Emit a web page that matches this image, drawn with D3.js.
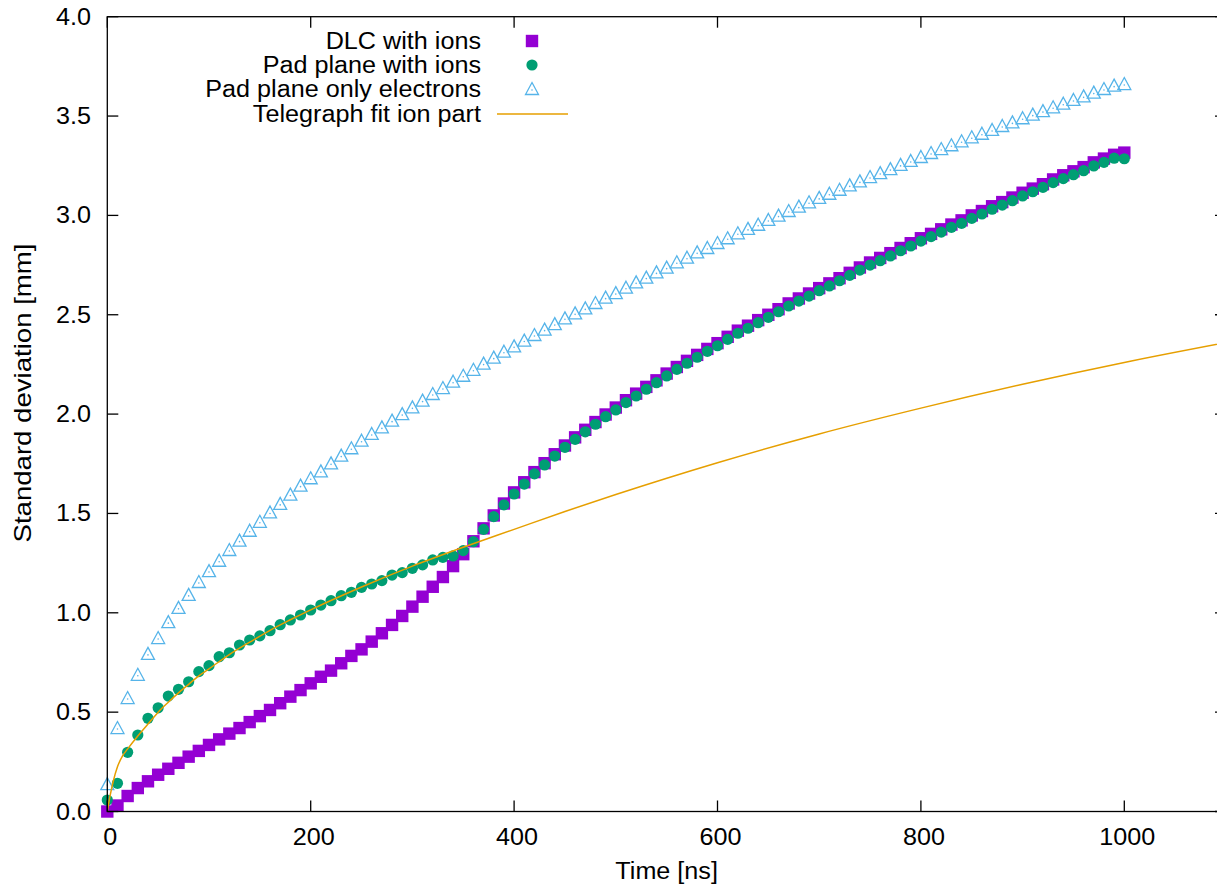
<!DOCTYPE html>
<html>
<head>
<meta charset="utf-8">
<script src="https://cdn.jsdelivr.net/npm/d3@7/dist/d3.min.js"></script>
<style>
body { margin: 0; background: #fff; }
text { font-family: "Liberation Sans", Arial, sans-serif; fill: #000; }
</style>
</head>
<body>
<div id="chart"></div>
<script>
// Sample times [ns]
var times = [0, 10, 20, 30, 40, 50, 60, 70, 80, 90,
    100, 110, 120, 130, 140, 150, 160, 170, 180, 190,
    200, 210, 220, 230, 240, 250, 260, 270, 280, 290,
    300, 310, 320, 330, 340, 350, 360, 370, 380, 390,
    400, 410, 420, 430, 440, 450, 460, 470, 480, 490,
    500, 510, 520, 530, 540, 550, 560, 570, 580, 590,
    600, 610, 620, 630, 640, 650, 660, 670, 680, 690,
    700, 710, 720, 730, 740, 750, 760, 770, 780, 790,
    800, 810, 820, 830, 840, 850, 860, 870, 880, 890,
    900, 910, 920, 930, 940, 950, 960, 970, 980, 990, 1000];

// DLC with ions [mm]
var dlcIons = [0.000, 0.030, 0.078, 0.118, 0.152, 0.185, 0.215, 0.245, 0.276, 0.305,
    0.335, 0.363, 0.392, 0.420, 0.450, 0.480, 0.511, 0.545, 0.578, 0.611,
    0.645, 0.678, 0.709, 0.746, 0.783, 0.816, 0.855, 0.897, 0.939, 0.984,
    1.031, 1.081, 1.131, 1.180, 1.235, 1.295, 1.360, 1.425, 1.490, 1.550,
    1.606, 1.657, 1.708, 1.753, 1.798, 1.842, 1.883, 1.921, 1.960, 1.998,
    2.033, 2.070, 2.103, 2.137, 2.170, 2.204, 2.237, 2.268, 2.298, 2.328,
    2.357, 2.389, 2.420, 2.445, 2.473, 2.500, 2.528, 2.557, 2.582, 2.607,
    2.634, 2.658, 2.684, 2.711, 2.738, 2.763, 2.786, 2.810, 2.836, 2.860,
    2.885, 2.907, 2.930, 2.954, 2.975, 3.000, 3.022, 3.046, 3.067, 3.090,
    3.114, 3.135, 3.157, 3.181, 3.202, 3.222, 3.243, 3.267, 3.286, 3.305, 3.316];

// Pad plane with ions [mm]
var padIons = [0.058, 0.142, 0.298, 0.385, 0.469, 0.522, 0.581, 0.615, 0.653, 0.704,
    0.734, 0.779, 0.799, 0.838, 0.863, 0.884, 0.910, 0.940, 0.964, 0.989,
    1.014, 1.039, 1.061, 1.086, 1.103, 1.128, 1.145, 1.162, 1.190, 1.202,
    1.224, 1.241, 1.266, 1.279, 1.286, 1.313, 1.358, 1.420, 1.484, 1.543,
    1.598, 1.648, 1.699, 1.744, 1.789, 1.833, 1.873, 1.911, 1.949, 1.987,
    2.021, 2.058, 2.091, 2.125, 2.158, 2.192, 2.225, 2.256, 2.286, 2.316,
    2.344, 2.376, 2.407, 2.432, 2.460, 2.487, 2.515, 2.544, 2.569, 2.594,
    2.621, 2.645, 2.671, 2.698, 2.725, 2.750, 2.772, 2.796, 2.822, 2.846,
    2.871, 2.893, 2.916, 2.940, 2.960, 2.985, 3.007, 3.031, 3.052, 3.074,
    3.098, 3.119, 3.141, 3.165, 3.185, 3.205, 3.225, 3.249, 3.267, 3.288, 3.285];

// Pad plane only electrons [mm]
var padElectrons = [0.133, 0.415, 0.566, 0.683, 0.788, 0.868, 0.948, 1.020, 1.085, 1.150,
    1.205, 1.257, 1.311, 1.358, 1.408, 1.453, 1.500, 1.543, 1.590, 1.635,
    1.672, 1.707, 1.747, 1.786, 1.823, 1.861, 1.895, 1.928, 1.962, 1.995,
    2.029, 2.063, 2.096, 2.126, 2.158, 2.188, 2.218, 2.249, 2.279, 2.309,
    2.336, 2.365, 2.393, 2.420, 2.448, 2.477, 2.502, 2.527, 2.554, 2.581,
    2.604, 2.631, 2.658, 2.682, 2.708, 2.732, 2.759, 2.782, 2.809, 2.831,
    2.856, 2.880, 2.905, 2.927, 2.948, 2.972, 2.994, 3.017, 3.039, 3.061,
    3.083, 3.104, 3.124, 3.146, 3.166, 3.188, 3.208, 3.228, 3.249, 3.269,
    3.289, 3.309, 3.329, 3.348, 3.368, 3.388, 3.406, 3.425, 3.445, 3.463,
    3.484, 3.502, 3.520, 3.539, 3.557, 3.576, 3.594, 3.613, 3.631, 3.648, 3.656];

// Telegraph fit ion part
var fitTimes = [0, 2, 4, 6, 10, 15, 20, 30, 40, 50, 60, 70, 80, 90, 100, 120, 140, 160, 180, 200,
    250, 300, 350, 400, 450, 500, 600, 700, 800, 900, 1000, 1100];
var fitValues = [0.000, 0.060, 0.110, 0.155, 0.225, 0.280, 0.315, 0.380, 0.440, 0.500, 0.550, 0.597,
    0.640, 0.683, 0.718, 0.790, 0.852, 0.912, 0.965, 1.015,
    1.130, 1.235, 1.330, 1.420, 1.510, 1.595, 1.755, 1.900, 2.030, 2.150, 2.260, 2.360];

var xTicks = [0, 200, 400, 600, 800, 1000];
var yTicks = [0, 0.5, 1.0, 1.5, 2.0, 2.5, 3.0, 3.5, 4.0];

var seriesNames = ["DLC with ions", "Pad plane with ions", "Pad plane only electrons", "Telegraph fit ion part"];
var seriesColors = ["#9400d3", "#009e73", "#56b4e9", "#e69f00"];

//Info init chart
var infoChart = {
    width: 1217,
    height: 891,
    divId: "#chart"
};
var plot = { left: 107.3, right: 1226, top: 16.7, bottom: 811.5 };
var fontSize = 23;
var stretch = 1.095;

var x = d3.scaleLinear().domain([0, 1100]).range([plot.left, plot.right]);
var y = d3.scaleLinear().domain([0, 4]).range([plot.bottom, plot.top]);

var svg = d3.select(infoChart.divId).append("svg")
    .attr("width", infoChart.width)
    .attr("height", infoChart.height)
    .style("display", "block");

svg.append("rect")
    .attr("width", infoChart.width)
    .attr("height", infoChart.height)
    .style("fill", "#fff");

// text helper: gnuplot text is a little wider than Liberation Sans
function addText(g, tx, ty, str, anchor) {
    return g.append("text")
        .attr("transform", "translate(" + tx + "," + ty + ") scale(" + stretch + ",1)")
        .attr("text-anchor", anchor)
        .style("font-size", fontSize + "px")
        .text(str);
}

// markers
var triPath = "M0,-7.5L6.5,4.5L-6.5,4.5Z";

function drawSquare(g, cx, cy) {
    g.append("rect")
        .attr("x", cx - 6.2).attr("y", cy - 6.2)
        .attr("width", 12.4).attr("height", 12.4)
        .style("fill", seriesColors[0]);
}
function drawCircle(g, cx, cy) {
    g.append("circle")
        .attr("cx", cx).attr("cy", cy).attr("r", 5.6)
        .style("fill", seriesColors[1]);
}
function drawTriangle(g, cx, cy) {
    var t = g.append("g").attr("transform", "translate(" + cx + "," + cy + ")");
    t.append("path").attr("d", triPath)
        .style("fill", "none")
        .style("stroke", seriesColors[2])
        .style("stroke-width", 1.3)
        .style("stroke-linejoin", "miter");
    t.append("circle").attr("r", 0.8).style("fill", seriesColors[2]);
}

// Data series
var gDlc = svg.append("g").attr("class", "dlc");
times.forEach(function(t, i) { drawSquare(gDlc, x(t), y(dlcIons[i])); });

var gPad = svg.append("g").attr("class", "pad");
times.forEach(function(t, i) { drawCircle(gPad, x(t), y(padIons[i])); });

var gEl = svg.append("g").attr("class", "electrons");
times.forEach(function(t, i) { drawTriangle(gEl, x(t), y(padElectrons[i])); });

svg.append("clipPath").attr("id", "clip")
    .append("rect")
    .attr("x", plot.left).attr("y", plot.top)
    .attr("width", plot.right - plot.left).attr("height", plot.bottom - plot.top);

var fitLine = d3.line()
    .x(function(d, i) { return x(fitTimes[i]); })
    .y(function(d) { return y(d); })
    .curve(d3.curveMonotoneX);

svg.append("path")
    .datum(fitValues)
    .attr("d", fitLine)
    .attr("clip-path", "url(#clip)")
    .style("fill", "none")
    .style("stroke", seriesColors[3])
    .style("stroke-width", 1.5);

// Border and ticks (mirrored, pointing inward)
var axes = svg.append("g").attr("class", "axes")
    .style("stroke", "#000").style("stroke-width", 1.3);

axes.append("rect")
    .attr("x", plot.left).attr("y", plot.top)
    .attr("width", plot.right - plot.left).attr("height", plot.bottom - plot.top)
    .style("fill", "none");

var tickLen = 11;
xTicks.forEach(function(t) {
    axes.append("line").attr("x1", x(t)).attr("x2", x(t))
        .attr("y1", plot.bottom).attr("y2", plot.bottom - tickLen);
    axes.append("line").attr("x1", x(t)).attr("x2", x(t))
        .attr("y1", plot.top).attr("y2", plot.top + tickLen);
});
yTicks.forEach(function(v) {
    axes.append("line").attr("y1", y(v)).attr("y2", y(v))
        .attr("x1", plot.left).attr("x2", plot.left + tickLen);
    axes.append("line").attr("y1", y(v)).attr("y2", y(v))
        .attr("x1", plot.right).attr("x2", plot.right - tickLen);
});

// Tick labels
var labels = svg.append("g").attr("class", "labels");
xTicks.forEach(function(t) {
    addText(labels, x(t) + 3, 845, d3.format("d")(t), "middle");
});
yTicks.forEach(function(v) {
    addText(labels, 91, y(v) + 8, d3.format(".1f")(v), "end");
});

// Axis titles
addText(labels, (plot.left + plot.right) / 2, 879, "Time [ns]", "middle");

labels.append("text")
    .attr("transform", "translate(31," + 393 + ") rotate(-90) scale(1.2,1)")
    .attr("text-anchor", "middle")
    .style("font-size", fontSize + "px")
    .text("Standard deviation [mm]");

// Legend
var legend = svg.append("g").attr("class", "legend");
var legendRows = [41, 65, 89, 114];
seriesNames.forEach(function(name, i) {
    addText(legend, 481, legendRows[i] + 8, name, "end");
});
drawSquare(legend, 532, legendRows[0]);
drawCircle(legend, 532, legendRows[1]);
drawTriangle(legend, 532, legendRows[2] + 1);
legend.append("line")
    .attr("x1", 497).attr("x2", 568)
    .attr("y1", legendRows[3]).attr("y2", legendRows[3])
    .style("stroke", seriesColors[3])
    .style("stroke-width", 1.5);
</script>
</body>
</html>
